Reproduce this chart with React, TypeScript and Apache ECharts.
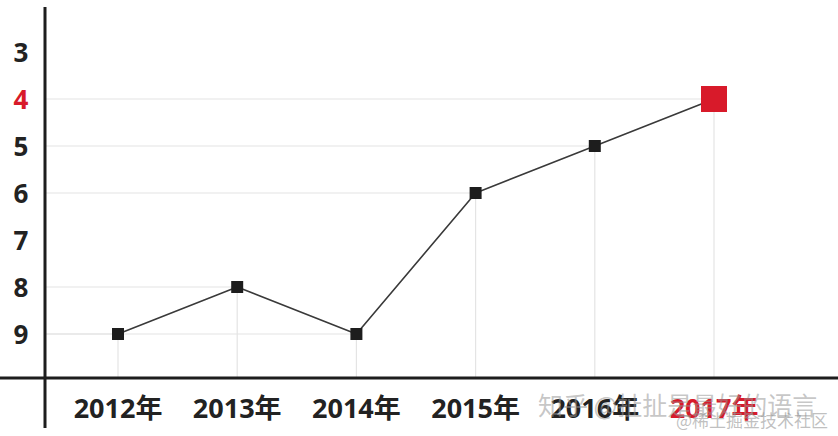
import React, { useEffect, useRef } from "react";
import * as echarts from "echarts";

const categories = ["2012年", "2013年", "2014年", "2015年", "2016年", "2017年"];
const rankValues = [9, 8, 9, 6, 5, 4];
const highlightCategory = "2017年";
const highlightTick = 4;

const RED = "#d81a2a";
const DARK = "#1d1d1d";
const FONT = "'Open Sans', 'Noto Sans CJK SC', sans-serif";

export default function App() {
  const ref = useRef<HTMLDivElement>(null);
  useEffect(() => {
    if (!ref.current) return;
    const chart = echarts.init(ref.current, null, { renderer: "svg" });
    const lastIdx = rankValues.length - 1;
    const AXIS_Y = 378;
    const AXIS_X = 45;
    chart.setOption({
      animation: false,
      backgroundColor: "#ffffff",
      grid: { left: 58.4, right: 64.4, top: 52, bottom: 102 },
      xAxis: {
        type: "category",
        data: categories,
        boundaryGap: true,
        axisLine: { show: false },
        axisTick: { show: false },
        splitLine: { show: false },
        axisLabel: {
          margin: 60,
          fontSize: 27,
          fontWeight: "bold",
          fontFamily: FONT,
          color: (v: string) => (v === highlightCategory ? RED : "#222222"),
        },
      },
      yAxis: {
        type: "value",
        inverse: true,
        min: 3,
        max: 9,
        interval: 1,
        axisLine: { show: false },
        axisTick: { show: false },
        splitLine: { show: false },
        axisLabel: {
          margin: 30,
          fontSize: 26,
          fontWeight: "bold",
          fontFamily: FONT,
          color: (v: number) => (Number(v) === highlightTick ? RED : "#222222"),
        },
      },
      graphic: [
        {
          type: "line",
          shape: { x1: AXIS_X, y1: 7, x2: AXIS_X, y2: 428 },
          style: { stroke: DARK, lineWidth: 3 },
          z: 10,
        },
        {
          type: "line",
          shape: { x1: 0, y1: AXIS_Y, x2: 838, y2: AXIS_Y },
          style: { stroke: DARK, lineWidth: 3 },
          z: 10,
        },
        {
          type: "text",
          x: 538,
          y: 391,
          style: {
            text: "知乎 @扯扯是最好的语言",
            fontSize: 25,
            fontFamily: "'Noto Sans CJK SC', sans-serif",
            fill: "rgba(150,150,150,0.55)",
          },
          z: 20,
        },
        {
          type: "text",
          x: 676,
          y: 411,
          style: {
            text: "@稀土掘金技术社区",
            fontSize: 17,
            fontFamily: "'Noto Sans CJK SC', serif",
            fill: "rgba(150,150,150,0.6)",
          },
          z: 20,
        },
      ],
      series: [
        {
          type: "custom",
          data: rankValues.map((v, i) => [i, v]),
          clip: false,
          z: 1,
          renderItem: (params: any, api: any) => {
            const idx = api.value(0);
            const v = api.value(1);
            const p = api.coord([idx, v]);
            return {
              type: "group",
              children: [
                {
                  type: "line",
                  shape: { x1: AXIS_X, y1: p[1], x2: p[0], y2: p[1] },
                  style: { stroke: "#e4e4e4", lineWidth: 1.2 },
                },
                {
                  type: "line",
                  shape: { x1: p[0], y1: p[1], x2: p[0], y2: AXIS_Y },
                  style: { stroke: "#e4e4e4", lineWidth: 1.2 },
                },
              ],
            };
          },
        },
        {
          type: "line",
          z: 5,
          data: rankValues.map((v, i) =>
            i === lastIdx
              ? { value: v, symbolSize: 26, itemStyle: { color: RED } }
              : { value: v }
          ),
          symbol: "rect",
          symbolSize: 12,
          lineStyle: { color: "#3a3a3a", width: 1.6 },
          itemStyle: { color: DARK },
        },
      ],
    });
    return () => chart.dispose();
  }, []);
  return (
    <div
      ref={ref}
      style={{ position: "fixed", left: 0, top: 0, width: 838, height: 436 }}
    />
  );
}
